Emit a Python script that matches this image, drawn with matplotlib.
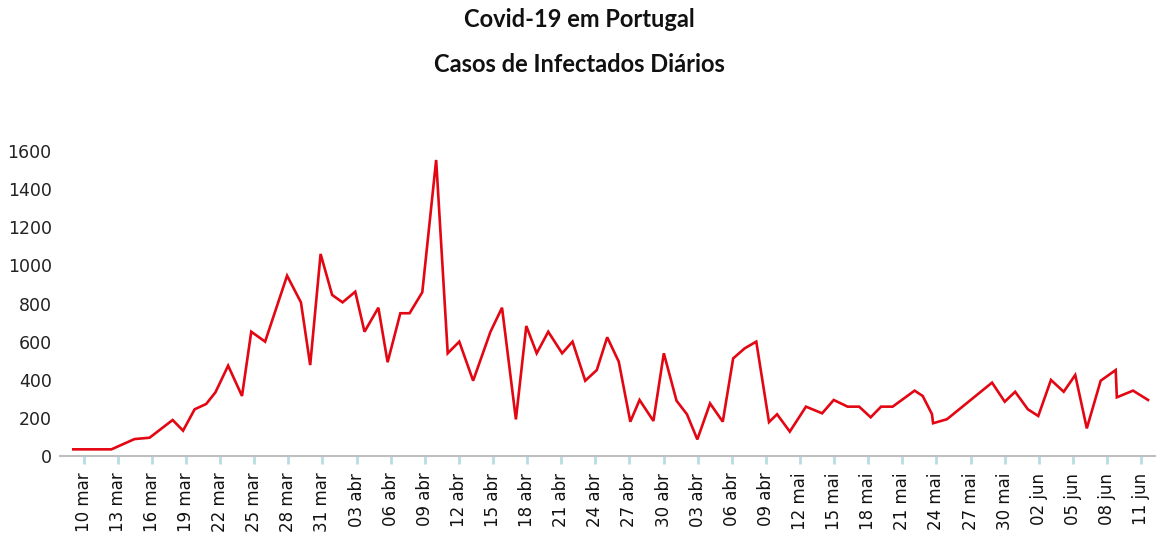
import numpy as np
import matplotlib
matplotlib.use("Agg")
import matplotlib.pyplot as plt

# Daily new cases (x = days since 10 mar)
days = [0.0, 3.3, 5.3, 6.6, 8.6, 9.5, 10.5, 11.5, 12.3, 13.4,
        14.6, 15.4, 16.6, 18.5, 19.7, 20.5, 21.4, 22.4, 23.3, 24.4,
        25.2, 26.4, 27.2, 28.3, 29.1, 30.2, 31.4, 32.4, 33.4, 34.6,
        36.1, 37.1, 38.3, 39.2, 40.1, 41.1, 42.3, 43.2, 44.3, 45.3,
        46.2, 47.2, 48.2, 49.0, 50.2, 51.1, 52.2, 53.1, 54.0, 55.1,
        56.2, 57.1, 58.1, 59.1, 60.2, 60.9, 62.0, 63.4, 64.8, 65.8,
        67.0, 68.0, 69.0, 69.9, 70.9, 72.8, 73.5, 74.3, 74.4, 75.6,
        79.5, 80.6, 81.5, 82.6, 83.5, 84.6, 85.7, 86.7, 87.7, 88.9,
        90.2, 90.3, 91.7, 93.0]
cases = [35, 35, 89, 96, 189, 133, 245, 273, 334, 474,
         315, 652, 600, 946, 806, 477, 1060, 845, 806, 862,
         652, 778, 492, 749, 749, 859, 1553, 539, 600, 395,
         652, 778, 192, 682, 539, 652, 539, 600, 395, 451,
         623, 495, 180, 294, 184, 539, 290, 219, 87, 276,
         180, 512, 565, 600, 178, 219, 128, 259, 224, 294,
         259, 259, 203, 259, 259, 343, 315, 220, 172, 193,
         385, 285, 337, 245, 210, 399, 337, 425, 145, 395,
         451, 308, 343, 294]

# tick labels as printed in the original (every 3 days)
tick_labels = ["10 mar", "13 mar", "16 mar", "19 mar", "22 mar", "25 mar", "28 mar", "31 mar",
               "03 abr", "06 abr", "09 abr", "12 abr", "15 abr", "18 abr", "21 abr", "24 abr",
               "27 abr", "30 abr", "03 abr", "06 abr", "09 abr", "12 mai", "15 mai", "18 mai",
               "21 mai", "24 mai", "27 mai", "30 mai", "02 jun", "05 jun", "08 jun", "11 jun"]
yticks = [0, 200, 400, 600, 800, 1000, 1200, 1400, 1600]

fig = plt.figure(figsize=(11.58, 5.37), dpi=100)
ax = fig.add_axes([0.0518, 0.1508, 0.9456, 0.568])

ax.plot(days, cases, color="#e30613", lw=1.9, solid_joinstyle="miter")

ax.set_xlim(-1.15, 93.6)
ax.set_ylim(0, 1600)

for s in ["top", "right", "left"]:
    ax.spines[s].set_visible(False)
ax.spines["bottom"].set_color("#bfbfbf")
ax.spines["bottom"].set_linewidth(1.5)

ax.set_yticks(yticks)
ax.set_yticklabels([str(v) for v in yticks], fontsize=12.5, color="#222222")
ax.tick_params(axis="y", length=0, pad=6)

# the original's category labels sit on a slightly tighter spacing than the data
ax.set_xticks(np.linspace(0.9, 92.4, len(tick_labels)))
ax.set_xticklabels(tick_labels, rotation=90, fontsize=12, color="#111111")
ax.tick_params(axis="x", length=6, width=2, color="#b7dde3", pad=6)

fig.text(0.5, 0.963, "Covid-19 em Portugal", ha="center", va="center",
         fontsize=17, fontweight="bold", family="Lato", color="#111111")
fig.text(0.5, 0.879, "Casos de Infectados Diários", ha="center", va="center",
         fontsize=17, fontweight="bold", family="Lato", color="#111111")

fig.savefig("out.png", dpi=100, facecolor="white")
